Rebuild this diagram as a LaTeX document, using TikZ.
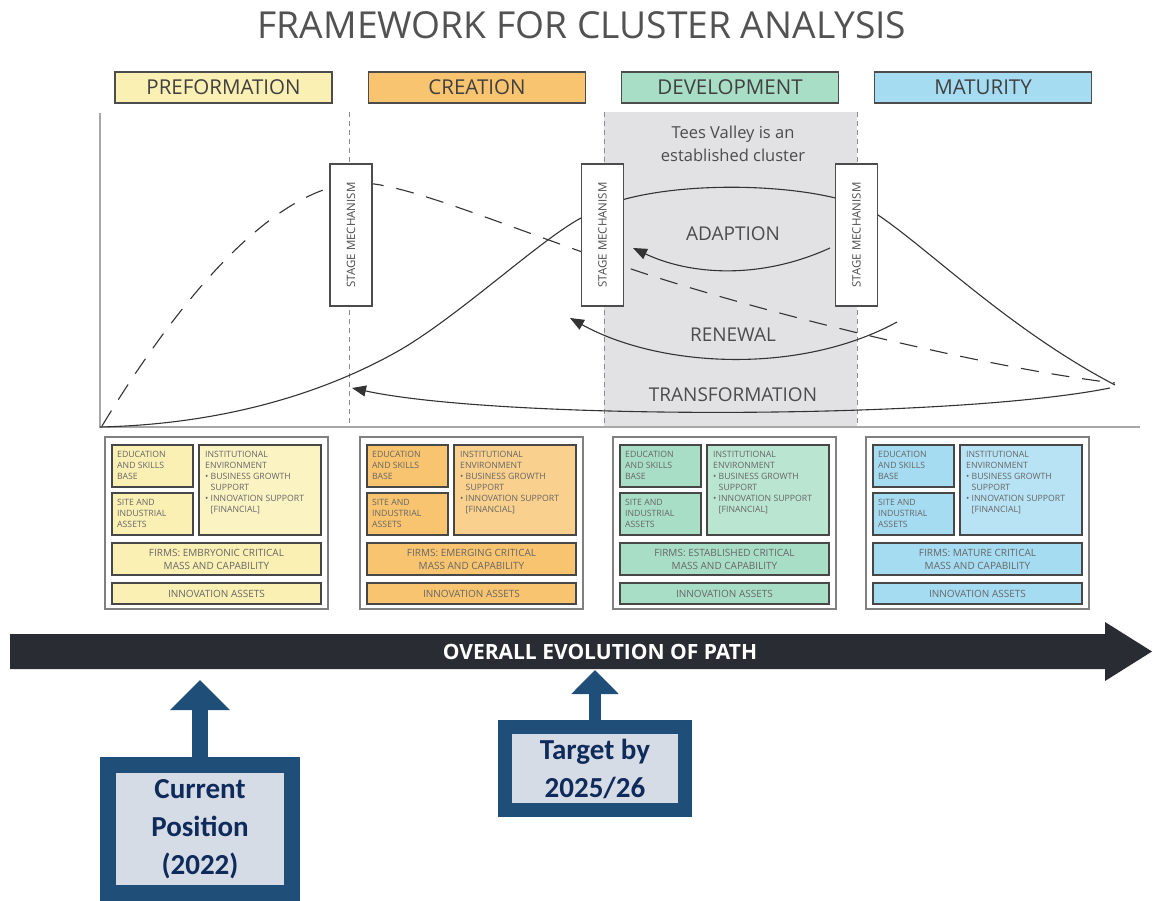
\documentclass[tikz,border=0pt]{standalone}
\usepackage{fontspec}
\setmainfont{Open Sans}
\newfontfamily\calfont{Carlito}
\usetikzlibrary{arrows.meta}

\definecolor{preyel}{HTML}{FBF0B4}
\definecolor{creora}{HTML}{F8C470}
\definecolor{devgrn}{HTML}{A9DEC6}
\definecolor{matblu}{HTML}{A5DCF2}
\definecolor{devshade}{HTML}{E2E2E4}
\definecolor{evodark}{HTML}{2A2C33}
\definecolor{calblue}{HTML}{1F4E79}
\definecolor{calfill}{HTML}{D6DCE5}
\definecolor{caltext}{HTML}{0F2B5B}

\begin{document}
\begin{tikzpicture}[x=1pt, y=-1pt,
    stagehead/.style={draw=black!70, line width=1.2pt, minimum width=217pt, minimum height=31pt,
        inner sep=0pt, text=black!75, font=\fontsize{20.5}{24}\selectfont},
    mechbox/.style={draw=black!70, fill=white, line width=1.1pt, minimum width=142pt,
        minimum height=42pt, inner sep=0pt, rotate=90, text=black!70, font=\fontsize{11.5}{13}\selectfont},
    cell/.style={draw=black!72, line width=1.3pt},
    celltext/.style={text=black!60, font=\fontsize{8.7}{11}\selectfont, align=left, inner sep=0pt},
    firmtext/.style={text=black!60, font=\fontsize{10}{13}\selectfont, align=center, inner sep=0pt},
    phase/.style={text=black!70, font=\fontsize{19}{23}\selectfont},
    loopline/.style={black!80, line width=1.1pt, -{Triangle[length=14pt, width=11pt]}},
    callout/.style={draw=calblue, fill=calfill, text=caltext, align=center, inner sep=0pt,
        font=\calfont\bfseries\fontsize{29}{38}\selectfont},
    calarrow/.style={calblue}
]
    \useasboundingbox (0,0) rectangle (1153,901);

    % --- 1. Title and stage headers ---
    \node[text=black!68, font=\fontsize{37.2}{40}\selectfont] (title) at (582,25) {FRAMEWORK FOR CLUSTER ANALYSIS};
    \foreach \hx/\col/\lab/\nm in {223.5/preyel/PREFORMATION/pre, 477/creora/CREATION/cre,
                                  730/devgrn/DEVELOPMENT/dev, 983/matblu/MATURITY/mat} {
        \node[stagehead, fill=\col] (head\nm) at (\hx,87.5) {\lab};
    }

    % --- 2. Plot area (shaded development stage, stage borders, axes) ---
    \fill[devshade] (604,112) rectangle (857,427);
    \foreach \sx in {349, 604, 857} {
        \draw[black!45, line width=0.8pt, dash pattern=on 5pt off 4pt] (\sx,112) -- (\sx,427);
    }
    \draw[black!35, line width=1.5pt] (100,113) -- (100,427) -- (1140,427);

    % --- 3. Life-cycle curves ---
    % solid path
    \draw[black!80, line width=1.1pt] (100,427)
        .. controls (230,424) and (330,390) .. (400,350)
        .. controls (460,315) and (540,240) .. (581,218)
        .. controls (640,175) and (830,180) .. (878,215)
        .. controls (930,250) and (1010,330) .. (1115,385);
    % dashed path
    \draw[black!80, line width=1.1pt, dash pattern=on 18pt off 13pt] (102,426)
        .. controls (160,330) and (260,190) .. (355,183)
        .. controls (400,180) and (500,225) .. (640,272)
        .. controls (780,318) and (1000,370) .. (1115,383);

    % Stage mechanisms
    \foreach \mx/\i in {351/1, 602.5/2, 856.5/3} {
        \node[mechbox] (mech\i) at (\mx,235) {STAGE MECHANISM};
    }

    % --- 4. Feedback loops ---
    \coordinate (adaptS) at (830,248);
    \coordinate (adaptE) at (633,248);
    \coordinate (renewS) at (897,322);
    \coordinate (renewE) at (570,318);
    \coordinate (transS) at (1110,388);
    \coordinate (transE) at (352,388);
    \draw[loopline] (adaptS) .. controls (760,280) and (690,275) .. (adaptE);
    \draw[loopline] (renewS) .. controls (800,375) and (660,368) .. (renewE);
    \draw[loopline] (transS) .. controls (950,420) and (500,420) .. (transE);

    \node[phase] (adaption) at (733,234) {ADAPTION};
    \node[phase] (renewal) at (733,335) {RENEWAL};
    \node[phase] (transform) at (733,395) {TRANSFORMATION};
    \node[text=black!70, font=\fontsize{16.5}{23}\selectfont, align=center] (tees) at (733,144)
        {Tees Valley is an\\established cluster};

    % --- 5. Stage panels ---
    \foreach \px/\col/\firm/\nm in {105/preyel/EMBRYONIC/pre, 360/creora/EMERGING/cre,
                                   613/devgrn/ESTABLISHED/dev, 866/matblu/MATURE/mat} {
        \begin{scope}[shift={(\px,437)}]
            \draw[black!50, line width=1.2pt, fill=white] (0,0) rectangle (223,172);
            \draw[cell, fill=\col] (7,8) rectangle (88,50);
            \draw[cell, fill=\col] (7,56) rectangle (88,98);
            \draw[cell, fill=\col!80] (94,8) rectangle (216,98);
            \draw[cell, fill=\col] (7,106) rectangle (216,138);
            \draw[cell, fill=\col] (7,146) rectangle (216,167);
            \node[celltext, anchor=north west] (edu\nm) at (12,14) {EDUCATION\\AND SKILLS\\BASE};
            \node[celltext, anchor=north west] (site\nm) at (12,62) {SITE AND\\INDUSTRIAL\\ASSETS};
            \node[celltext, anchor=north west] (inst\nm) at (100,14)
                {INSTITUTIONAL\\ENVIRONMENT\\• BUSINESS GROWTH\\\phantom{• }SUPPORT\\• INNOVATION SUPPORT\\\phantom{• }[FINANCIAL]};
            \node[firmtext] (firm\nm) at (111.5,122) {FIRMS: \firm{} CRITICAL\\MASS AND CAPABILITY};
            \node[firmtext] (innov\nm) at (111.5,156.5) {INNOVATION ASSETS};
        \end{scope}
    }

    % --- 6. Overall evolution arrow ---
    \fill[evodark] (10,634) -- (1105,634) -- (1105,622) -- (1152,651.5)
        -- (1105,681) -- (1105,669) -- (10,669) -- cycle;
    \node[text=white, font=\bfseries\fontsize{21}{24}\selectfont] (evo) at (600,652) {OVERALL EVOLUTION OF PATH};

    % --- 7. Position call-outs ---
    \node[callout, line width=16pt, minimum width=184pt, minimum height=127.5pt] (cur) at (200,828.75)
        {Current\\Position\\(2022)};
    \coordinate (curtip) at (200,680);
    \draw[calarrow, line width=16pt, -{Triangle[width=58pt, length=30pt]}] (cur.north) -- (curtip);

    \node[callout, line width=14pt, minimum width=180pt, minimum height=83pt] (tgt) at (595,768.5)
        {Target by\\2025/26};
    \coordinate (tgttip) at (595,670);
    \draw[calarrow, line width=12pt, -{Triangle[width=46pt, length=24pt]}] (tgt.north) -- (tgttip);

\end{tikzpicture}
\end{document}
